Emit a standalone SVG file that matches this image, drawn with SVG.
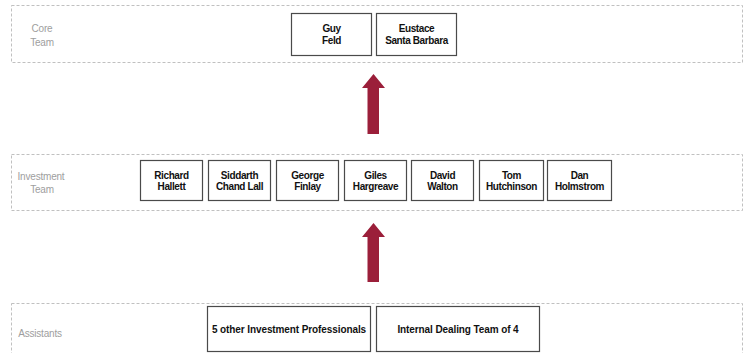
<svg xmlns="http://www.w3.org/2000/svg" width="748" height="353" viewBox="0 0 748 353">
<style>
.band{fill:none;stroke:#c0c0c0;stroke-width:1;stroke-dasharray:3 2}
.box{fill:#fff;stroke:#4a4a4a;stroke-width:1.2}
.t{font-family:"Liberation Sans",Arial,sans-serif;font-size:10px;font-weight:bold;fill:#111;text-anchor:middle;letter-spacing:-0.4px}
.t2{font-family:"Liberation Sans",Arial,sans-serif;font-size:10px;font-weight:bold;fill:#111;text-anchor:middle;letter-spacing:-0.1px}
.lbl{font-family:"Liberation Sans",Arial,sans-serif;font-size:10px;fill:#9e9e9e;text-anchor:middle;letter-spacing:-0.2px}
.arrow{fill:#9b1f3a}
</style>
<rect width="748" height="353" fill="#fff"/>
<g id="band-core"><rect class="band" x="11.5" y="5.5" width="731" height="57"/><text class="lbl" x="42" y="31.5">Core</text><text class="lbl" x="42" y="45.5">Team</text></g>
<g id="band-investment"><rect class="band" x="11.5" y="154.5" width="731" height="56"/><text class="lbl" x="41" y="179.5">Investment</text><text class="lbl" x="42" y="192.5">Team</text></g>
<g id="band-assistants"><rect class="band" x="11.5" y="303.5" width="731" height="55"/><text class="lbl" x="40" y="336.5">Assistants</text></g>
<g id="guy"><rect class="box" x="291.5" y="13.5" width="80" height="42"/><text class="t" x="331.5" y="31.5">Guy</text><text class="t" x="331.5" y="43.5">Feld</text></g>
<g id="eustace"><rect class="box" x="376.5" y="13.5" width="80" height="42"/><text class="t" x="416.5" y="31.5">Eustace</text><text class="t" x="416.5" y="43.5">Santa Barbara</text></g>
<g id="richard"><rect class="box" x="140.5" y="160.5" width="62" height="40"/><text class="t" x="171.5" y="178.5">Richard</text><text class="t" x="171.5" y="189.5">Hallett</text></g>
<g id="siddarth"><rect class="box" x="208.5" y="160.5" width="62" height="40"/><text class="t" x="239.5" y="178.5">Siddarth</text><text class="t" x="239.5" y="189.5">Chand Lall</text></g>
<g id="george"><rect class="box" x="276.5" y="160.5" width="62" height="40"/><text class="t" x="307.5" y="178.5">George</text><text class="t" x="307.5" y="189.5">Finlay</text></g>
<g id="giles"><rect class="box" x="344.5" y="160.5" width="62" height="40"/><text class="t" x="375.5" y="178.5">Giles</text><text class="t" x="375.5" y="189.5">Hargreave</text></g>
<g id="david"><rect class="box" x="411.5" y="160.5" width="62" height="40"/><text class="t" x="442.5" y="178.5">David</text><text class="t" x="442.5" y="189.5">Walton</text></g>
<g id="tom"><rect class="box" x="479.5" y="160.5" width="64" height="40"/><text class="t" x="511.5" y="178.5">Tom</text><text class="t" x="511.5" y="189.5">Hutchinson</text></g>
<g id="dan"><rect class="box" x="547.5" y="160.5" width="64" height="40"/><text class="t" x="579.5" y="178.5">Dan</text><text class="t" x="579.5" y="189.5">Holmstrom</text></g>
<g id="others"><rect class="box" x="207.5" y="306.5" width="163" height="45"/><text class="t2" x="289" y="332.5">5 other Investment Professionals</text></g>
<g id="dealing"><rect class="box" x="376.5" y="306.5" width="163" height="45"/><text class="t2" x="458" y="332.5">Internal Dealing Team of 4</text></g>
<g id="connectors">
<path class="arrow" d="M373.5 74 L385 88 L379 88 L379 134 L367.5 134 L367.5 88 L362 88 Z"/>
<path class="arrow" d="M373.5 223 L385 237 L379 237 L379 282 L367.5 282 L367.5 237 L362 237 Z"/>
</g>
</svg>
